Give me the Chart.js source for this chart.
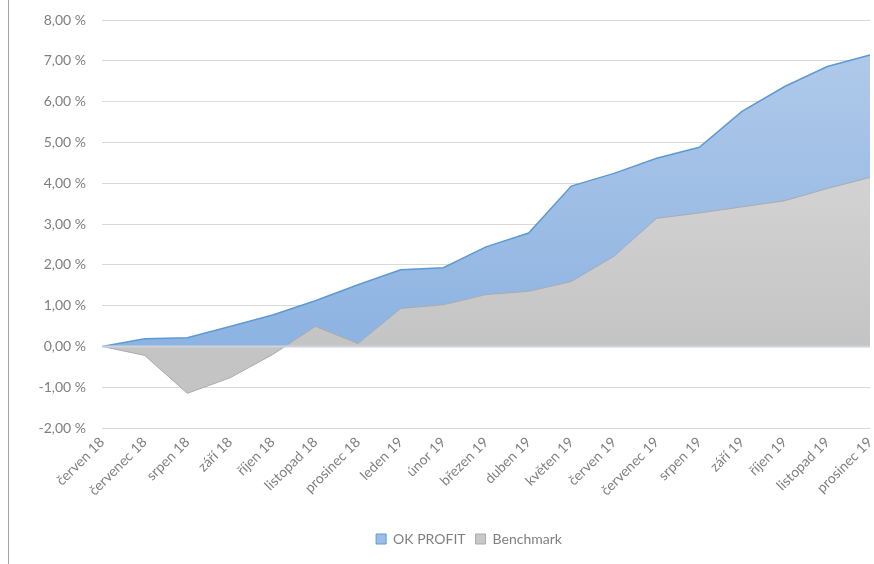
<!DOCTYPE html>
<html>
<head>
<meta charset="utf-8">
<script src="https://cdn.jsdelivr.net/npm/chart.js@4/dist/chart.umd.min.js"></script>
<style>
  html, body { margin: 0; padding: 0; background: #ffffff; }
  #wrap { position: relative; width: 874px; height: 564px; }
  #edge { position: absolute; left: 8px; top: 0; width: 1px; height: 564px; background: #a3a3a3; }
</style>
</head>
<body>
<div id="wrap">
  <canvas id="c" width="874" height="564"></canvas>
  <div id="edge"></div>
</div>
<script>
const categories = ["červen 18","červenec 18","srpen 18","září 18","říjen 18","listopad 18","prosinec 18","leden 19","únor 19","březen 19","duben 19","květen 19","červen 19","červenec 19","srpen 19","září 19","říjen 19","listopad 19","prosinec 19"];
const okProfit = [0, 0.19, 0.21, 0.49, 0.77, 1.12, 1.51, 1.88, 1.93, 2.44, 2.78, 3.93, 4.24, 4.61, 4.88, 5.76, 6.37, 6.86, 7.14];
const benchmark = [0, -0.22, -1.15, -0.77, -0.20, 0.49, 0.07, 0.93, 1.02, 1.27, 1.35, 1.59, 2.21, 3.14, 3.27, 3.42, 3.57, 3.87, 4.14];
const seriesNames = ["OK PROFIT", "Benchmark"];
const yMin = -2, yMax = 8, yStep = 1;

const FONT = "Lato, 'Open Sans', sans-serif";

function grad(ctx, top, bottom, c1, c2) {
  const chart = ctx.chart;
  const area = chart.chartArea;
  if (!area) return c2;
  const ys = chart.scales.y;
  const g = chart.ctx.createLinearGradient(0, ys.getPixelForValue(top), 0, ys.getPixelForValue(bottom));
  g.addColorStop(0, c1);
  g.addColorStop(1, c2);
  return g;
}

const zeroLine = {
  id: 'zeroLine',
  afterDatasetsDraw(chart) {
    const ys = chart.scales.y, a = chart.chartArea, ctx = chart.ctx;
    const y0 = ys.getPixelForValue(0);
    ctx.save();
    ctx.strokeStyle = '#cbd3de';
    ctx.lineWidth = 2;
    ctx.beginPath();
    ctx.moveTo(a.left, y0);
    ctx.lineTo(a.right, y0);
    ctx.stroke();
    ctx.restore();
  }
};

// shift the legend block so it is centred like the original (slightly right of canvas centre)
const legendShift = {
  id: 'legendShift',
  beforeDraw(chart) {
    if (chart.legend) { chart.legend.left += 68; }
  }
};

new Chart(document.getElementById('c'), {
  type: 'line',
  data: {
    labels: categories,
    datasets: [
      {
        label: seriesNames[0],
        data: okProfit,
        order: 1,
        fill: 'origin',
        borderColor: '#5b9bd5',
        borderWidth: 1.5,
        backgroundColor: (ctx) => grad(ctx, 7.5, 0, '#b1cae9', '#8db3e2'),
        pointRadius: 0,
        tension: 0
      },
      {
        label: seriesNames[1],
        data: benchmark,
        order: 0,
        fill: 'origin',
        borderColor: '#ababab',
        borderWidth: 1,
        backgroundColor: (ctx) => grad(ctx, 4.5, 0, '#d4d4d4', '#c4c4c4'),
        pointRadius: 0,
        tension: 0
      }
    ]
  },
  options: {
    responsive: false,
    animation: false,
    layout: { padding: { top: 20, left: 0, right: 4, bottom: 8 } },
    plugins: {
      tooltip: { enabled: false },
      legend: {
        position: 'bottom',
        labels: {
          sort: (a, b) => a.datasetIndex - b.datasetIndex,
          boxWidth: 10,
          boxHeight: 10,
          padding: 10,
          color: '#7f7f7f',
          font: { family: FONT, size: 14 },
          generateLabels: (chart) => chart.data.datasets.map((d, i) => ({
            text: d.label,
            fillStyle: i === 0 ? '#9dbde6' : '#c8c8c8',
            strokeStyle: i === 0 ? '#5b9bd5' : '#ababab',
            lineWidth: 1,
            datasetIndex: i,
            fontColor: '#7f7f7f'
          }))
        }
      }
    },
    scales: {
      x: {
        offset: false,
        grid: { display: false, drawTicks: false },
        border: { display: false },
        ticks: {
          autoSkip: false,
          maxRotation: 45,
          minRotation: 45,
          padding: 6,
          color: '#7f7f7f',
          font: { family: FONT, size: 14 }
        },
        afterFit: (s) => { s.height = 94; s.paddingRight = 0; s.paddingLeft = 0; s.paddingTop = 0; }
      },
      y: {
        min: yMin,
        max: yMax,
        grid: { color: '#d9d9d9', lineWidth: 1, drawTicks: false },
        border: { display: false },
        ticks: {
          stepSize: yStep,
          padding: 16,
          color: '#7f7f7f',
          font: { family: FONT, size: 14 },
          callback: (v) => v.toFixed(2).replace('.', ',') + ' %'
        },
        afterFit: (s) => { s.width = 102; s.paddingTop = 0; s.paddingBottom = 0; }
      }
    }
  },
  plugins: [zeroLine, legendShift]
});
</script>
</body>
</html>
